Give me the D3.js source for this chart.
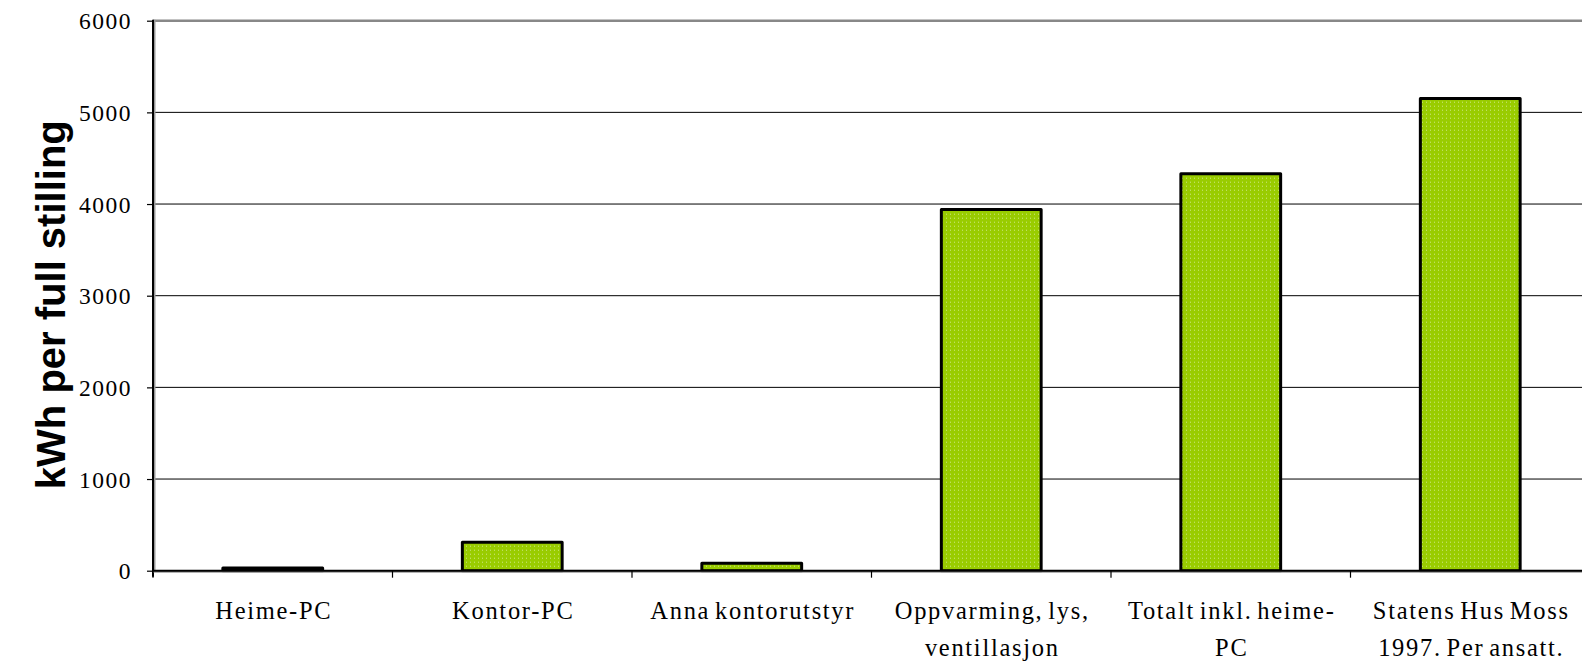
<!DOCTYPE html>
<html>
<head>
<meta charset="utf-8">
<script src="https://cdn.jsdelivr.net/npm/d3@7"></script>
<style>
  html, body { margin: 0; padding: 0; background: #fff; overflow: hidden; }
  svg { display: block; }
  .tick-label { font-family: "Liberation Serif", "Times New Roman", serif; fill: #000; }
</style>
</head>
<body>
<div id="chart"></div>
<script>
const categories = [
  ["Heime-PC"],
  ["Kontor-PC"],
  ["Anna kontorutstyr"],
  ["Oppvarming, lys,", "ventillasjon"],
  ["Totalt inkl. heime-", "PC"],
  ["Statens Hus Moss", "1997. Per ansatt."]
];
const values = [30, 310, 80, 3940, 4330, 5150];
const yTicks = [0, 1000, 2000, 3000, 4000, 5000, 6000];
const yTitle = "kWh per full stilling";

const width = 1582, height = 663;
const margin = { left: 153, top: 20.7, right: -8, bottom: 92.3 };
const plotW = width - margin.left - margin.right;
const plotH = height - margin.top - margin.bottom;

const svg = d3.select("#chart").append("svg")
  .attr("width", width)
  .attr("height", height);

// dotted green fill like the original
const defs = svg.append("defs");
const pat = defs.append("pattern")
  .attr("id", "dots")
  .attr("patternUnits", "userSpaceOnUse")
  .attr("width", 4).attr("height", 4);
pat.append("rect").attr("width", 4).attr("height", 4).attr("fill", "#99cc00");
pat.append("rect").attr("x", 1).attr("y", 1).attr("width", 1).attr("height", 1).attr("fill", "#cfe889");

const chart = svg.append("g")
  .attr("transform", `translate(${margin.left},${margin.top})`);

const gap = 1.4; // excel gap width 140%
const p = gap / (1 + gap);
const x = d3.scaleBand()
  .domain(d3.range(categories.length))
  .range([0, plotW])
  .paddingInner(p)
  .paddingOuter(p / 2);

const y = d3.scaleLinear()
  .domain([0, 6000])
  .range([plotH, 0]);

// gridlines
chart.append("g")
  .selectAll("line")
  .data(yTicks.filter(d => d > 0 && d < 6000))
  .join("line")
  .attr("x1", 0).attr("x2", plotW)
  .attr("y1", d => y(d)).attr("y2", d => y(d))
  .attr("stroke", "#000").attr("stroke-width", 1);

// plot area border (top)
chart.append("line")
  .attr("x1", 0).attr("x2", plotW)
  .attr("y1", y(6000)).attr("y2", y(6000))
  .attr("stroke", "#888").attr("stroke-width", 2.5);

// bars
chart.append("g")
  .selectAll("rect")
  .data(values)
  .join("rect")
  .attr("x", (d, i) => x(i))
  .attr("y", d => y(d))
  .attr("width", x.bandwidth())
  .attr("height", d => y(0) - y(d))
  .attr("fill", "url(#dots)")
  .attr("stroke", "#000")
  .attr("stroke-width", 3)
  .attr("stroke-linejoin", "round");

// y axis
const yAxis = chart.append("g")
  .call(d3.axisLeft(y).tickValues(yTicks).tickSize(6).tickPadding(15).tickFormat(d3.format("d")));
yAxis.select(".domain").remove();
yAxis.selectAll("line").attr("stroke", "#000").attr("stroke-width", 1.2);
yAxis.selectAll("text")
  .attr("class", "tick-label")
  .style("font-size", "23.5px")
  .style("letter-spacing", "1.5px")
  .attr("dy", "0.34em");

chart.append("line")
  .attr("x1", 1.5).attr("x2", 1.5)
  .attr("y1", y(6000) - 1).attr("y2", y(0) + 1)
  .attr("stroke", "#999").attr("stroke-width", 2);
chart.append("line")
  .attr("x1", 0).attr("x2", 0)
  .attr("y1", y(6000) - 1).attr("y2", y(0) + 6)
  .attr("stroke", "#000").attr("stroke-width", 2);

// x axis line and category ticks
chart.append("line")
  .attr("x1", 0).attr("x2", plotW)
  .attr("y1", y(0) + 1).attr("y2", y(0) + 1)
  .attr("stroke", "#999").attr("stroke-width", 2);
chart.append("line")
  .attr("x1", 0).attr("x2", plotW)
  .attr("y1", y(0)).attr("y2", y(0))
  .attr("stroke", "#000").attr("stroke-width", 2);

chart.append("g")
  .selectAll("line")
  .data(d3.range(categories.length + 1))
  .join("line")
  .attr("x1", i => i * x.step()).attr("x2", i => i * x.step())
  .attr("y1", y(0)).attr("y2", y(0) + 7)
  .attr("stroke", "#000").attr("stroke-width", 1.2);

// category labels
const lab = chart.append("g")
  .selectAll("text")
  .data(categories)
  .join("text")
  .attr("class", "tick-label")
  .attr("text-anchor", "middle")
  .style("font-size", "24.5px")
  .style("letter-spacing", "1.7px")
  .style("word-spacing", "-3px")
  .attr("transform", (d, i) => `translate(${x(i) + x.bandwidth() / 2 + 1},${y(0) + 48})`);
lab.selectAll("tspan")
  .data(d => d)
  .join("tspan")
  .attr("x", 0)
  .attr("dy", (d, i) => i === 0 ? 0 : 37)
  .text(d => d);

// y title
svg.append("text")
  .attr("transform", `translate(65,${margin.top + plotH / 2 + 9}) rotate(-90)`)
  .attr("text-anchor", "middle")
  .style("font-family", "'Liberation Sans', Arial, sans-serif")
  .style("font-weight", "bold")
  .style("font-size", "40px")
  .text(yTitle);
</script>
</body>
</html>
